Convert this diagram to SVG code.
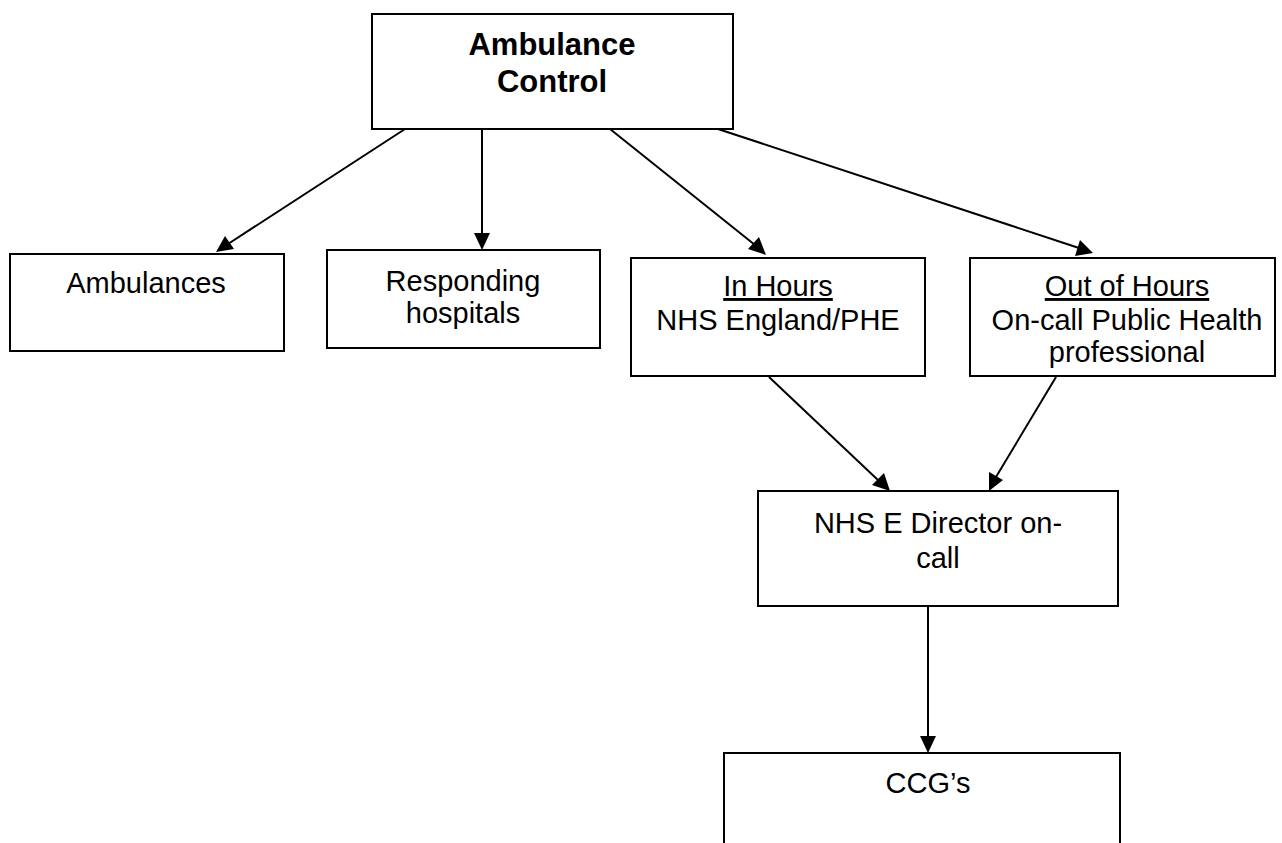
<svg xmlns="http://www.w3.org/2000/svg" width="1282" height="843" viewBox="0 0 1282 843">
<defs>
<style>
.box{fill:#fff;stroke:#000;stroke-width:2}
.t{font-family:"Liberation Sans",Arial,sans-serif;font-size:29px;fill:#000;text-anchor:middle}
.b{font-family:"Liberation Sans",Arial,sans-serif;font-size:31px;font-weight:bold;fill:#000;text-anchor:middle}
.c{stroke:#000;stroke-width:2;fill:none}
.h{fill:#000}
</style>
</defs>
<rect width="1282" height="843" fill="#fff"/>
<g id="connectors">
<line class="c" x1="405" y1="129" x2="228" y2="244"/>
<path class="h" d="M216,252 L225,236 L234,249 Z"/>
<line class="c" x1="482" y1="129" x2="482" y2="235"/>
<path class="h" d="M474,233 L490,233 L482,250 Z"/>
<line class="c" x1="610" y1="129" x2="755" y2="245"/>
<path class="h" d="M766,255 L748,249 L759,237 Z"/>
<line class="c" x1="718" y1="129" x2="1079" y2="248"/>
<path class="h" d="M1093,253 L1075,256 L1080,240 Z"/>
<line class="c" x1="769" y1="377" x2="879" y2="481"/>
<path class="h" d="M890,491 L872,485 L884,473 Z"/>
<line class="c" x1="1056" y1="377" x2="996" y2="477"/>
<path class="h" d="M989,491 L989,472 L1003,480 Z"/>
<line class="c" x1="928" y1="606" x2="928" y2="738"/>
<path class="h" d="M920,736 L936,736 L928,753 Z"/>
</g>
<g id="ambulance-control">
<rect class="box" x="372" y="14" width="361" height="115"/>
<text class="b" x="552" y="55">Ambulance</text>
<text class="b" x="552" y="92">Control</text>
</g>
<g id="ambulances">
<rect class="box" x="10" y="254" width="274" height="97"/>
<text class="t" x="146" y="293">Ambulances</text>
</g>
<g id="responding-hospitals">
<rect class="box" x="327" y="250" width="273" height="98"/>
<text class="t" x="463" y="291">Responding</text>
<text class="t" x="463" y="323">hospitals</text>
</g>
<g id="in-hours">
<rect class="box" x="631" y="258" width="294" height="118"/>
<text class="t" x="778" y="296" text-decoration="underline">In Hours</text>
<text class="t" x="778" y="330">NHS England/PHE</text>
</g>
<g id="out-of-hours">
<rect class="box" x="970" y="258" width="305" height="118"/>
<text class="t" x="1127" y="296" text-decoration="underline">Out of Hours</text>
<text class="t" x="1127" y="330">On-call Public Health</text>
<text class="t" x="1127" y="362">professional</text>
</g>
<g id="nhs-e-director">
<rect class="box" x="758" y="491" width="360" height="115"/>
<text class="t" x="938" y="533">NHS E Director on-</text>
<text class="t" x="938" y="568">call</text>
</g>
<g id="ccgs">
<rect class="box" x="724" y="753" width="396" height="100"/>
<text class="t" x="928" y="793">CCG’s</text>
</g>
</svg>
